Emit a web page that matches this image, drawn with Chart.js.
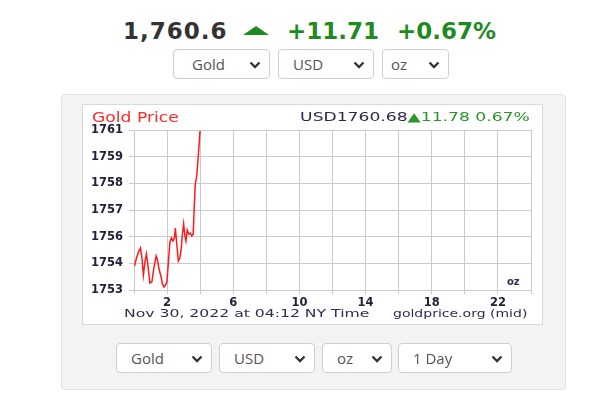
<!DOCTYPE html>
<html>
<head>
<meta charset="utf-8">
<script src="https://cdn.jsdelivr.net/npm/chart.js@4.4.1/dist/chart.umd.min.js"></script>
<style>
body{margin:0;background:#fff;width:600px;height:400px;overflow:hidden;position:relative;font-family:'DejaVu Sans',sans-serif;}
.abs{position:absolute;white-space:nowrap;}
.big{font-weight:bold;font-size:23px;line-height:23px;top:20px;}
.panel{position:absolute;left:61px;top:94px;width:505px;height:296px;box-sizing:border-box;background:#f3f3f3;border:1px solid #e2e2e2;border-radius:4px;}
.box{position:absolute;left:82px;top:104px;width:461px;height:221px;box-sizing:border-box;background:#fff;border:1px solid #d9d9d9;}
.sel{position:absolute;height:30px;box-sizing:border-box;background:#fff;border:1px solid #cfcfcf;border-radius:4px;font-family:'Open Sans',sans-serif;font-size:15px;line-height:28px;color:#555;}
.sel span{position:absolute;top:0;}
.sel svg{position:absolute;right:8px;top:11px;}
#chart{position:absolute;left:82px;top:104px;}
</style>
</head>
<body>

<!-- top price line -->
<div class="abs big" style="left:123px;color:#333;letter-spacing:1px">1,760.6</div>
<div class="abs" style="left:243px;top:26px;width:0;height:0;border-left:13.5px solid transparent;border-right:13.5px solid transparent;border-bottom:9px solid #1f8a1f"></div>
<div class="abs big" style="left:287px;color:#1f8a1f">+11.71</div>
<div class="abs big" style="left:397px;color:#1f8a1f">+0.67%</div>

<div id="selTop"></div>

<div class="panel"></div>
<div class="box"></div>
<canvas id="chart" width="460" height="220"></canvas>

<div class="abs fit" data-w="87" style="left:92px;top:110px;font-size:14px;line-height:14px;color:#ff2a2a">Gold Price</div>
<div class="abs fit" data-w="230" data-right="1" style="right:70px;top:110.5px;font-size:12px;line-height:12px;color:#2a2a50">USD1760.68<span style="color:#2a962a">▲11.78 0.67%</span></div>
<div class="abs fit" data-w="246" style="left:124px;top:308px;font-size:11px;line-height:11px;color:#2d2d50">Nov 30, 2022 at 04:12 NY Time</div>
<div class="abs fit" data-w="135" style="left:393px;top:308px;font-size:11px;line-height:11px;color:#2d2d50">goldprice.org (mid)</div>
<div class="abs" style="left:507px;top:277px;font-size:10px;line-height:10px;font-weight:bold;color:#2d2d50">oz</div>

<div id="selBottom"></div>

<script>
// ---------- data ----------
const hours = [0.03, 0.15, 0.27, 0.39, 0.48, 0.57, 0.66, 0.75, 0.84, 0.96,
               1.08, 1.2, 1.34, 1.42, 1.5, 1.64, 1.72, 1.81, 1.9, 1.99,
               2.08, 2.17, 2.26, 2.35, 2.44, 2.5, 2.59, 2.68, 2.77, 2.86,
               2.92, 3.0, 3.07, 3.14, 3.22, 3.31, 3.4, 3.49, 3.58, 3.64,
               3.7, 3.8, 3.89, 3.99];
const prices = [1754.2, 1754.6, 1754.9, 1755.1, 1754.6, 1753.75, 1754.4, 1754.8, 1754.25, 1753.35,
                1753.4, 1754.1, 1754.7, 1754.5, 1754.1, 1753.65, 1753.3, 1753.15, 1753.25, 1753.4,
                1754.4, 1755.4, 1755.6, 1755.45, 1755.6, 1756.1, 1755.25, 1754.45, 1754.6, 1755.1,
                1755.75, 1756.3, 1755.75, 1755.45, 1756.0, 1755.8, 1755.85, 1755.7, 1755.8, 1757.1,
                1758.25, 1758.75, 1759.75, 1760.95];

const xTicks = [2, 6, 10, 14, 18, 22];
const xTickLabels = ['2', '6', '10', '14', '18', '22'];
const yTicks = [1753, 1754.333, 1755.667, 1757, 1758.333, 1759.667, 1761];
const yTickLabels = ['1753', '1754', '1756', '1757', '1758', '1759', '1761'];

const metalOpts = ['Gold'];
const currencyOpts = ['USD'];
const unitOpts = ['oz'];
const rangeOpts = ['1 Day'];

// ---------- select boxes ----------
const chevron = '<svg width="12" height="8"><polyline points="1.5,1.5 6,6 10.5,1.5" fill="none" stroke="#333" stroke-width="2.3"/></svg>';

function makeSel(parent, left, top, width, pad, label) {
    const d = document.createElement('div');
    d.className = 'sel';
    d.style.left = left + 'px';
    d.style.top = top + 'px';
    d.style.width = width + 'px';
    d.innerHTML = `<span style="left:${pad}px">${label}</span>${chevron}`;
    parent.appendChild(d);
}

const top1 = document.querySelector('#selTop');
makeSel(top1, 173, 49, 97, 18, metalOpts[0]);
makeSel(top1, 278, 49, 96, 14, currencyOpts[0]);
makeSel(top1, 382, 49, 67, 8, unitOpts[0]);

const bot = document.querySelector('#selBottom');
makeSel(bot, 116, 343, 96, 14, metalOpts[0]);
makeSel(bot, 219, 343, 96, 14, currencyOpts[0]);
makeSel(bot, 322, 343, 70, 14, unitOpts[0]);
makeSel(bot, 398, 343, 114, 14, rangeOpts[0]);

// stretch the small texts to the widths seen in the picture
document.querySelectorAll('.fit').forEach(el => {
    const k = (+el.dataset.w) / el.offsetWidth;
    el.style.transformOrigin = el.dataset.right ? 'right top' : 'left top';
    el.style.transform = `scaleX(${k})`;
});

// ---------- chart ----------
const tickFont = { family: 'DejaVu Sans', size: 11.5, weight: 'bold' };
const gridCol = '#cacaca';

const ctx = document.getElementById('chart').getContext('2d');
const chart = new Chart(ctx, {
    type: 'line',
    data: {
        datasets: [{
            data: hours.map((h, i) => ({ x: h, y: prices[i] })),
            borderColor: '#ff1a1a',
            borderWidth: 1.5,
            pointRadius: 0,
            tension: 0,
            fill: false
        }]
    },
    options: {
        responsive: false,
        devicePixelRatio: 1,
        animation: false,
        layout: { padding: { top: 26, right: 11, bottom: 0, left: 0 } },
        plugins: { legend: { display: false }, tooltip: { enabled: false } },
        scales: {
            x: {
                type: 'linear',
                min: 0,
                max: 24,
                afterFit: (s) => { s.height = 34; },
                border: { color: gridCol, width: 1 },
                grid: { color: gridCol, tickColor: gridCol, tickLength: 4 },
                ticks: {
                    stepSize: 2,
                    autoSkip: false,
                    maxRotation: 0,
                    padding: 2,
                    color: '#22223a',
                    font: tickFont,
                    callback: (v) => {
                        const i = xTicks.indexOf(v);
                        return i >= 0 ? xTickLabels[i] : '';
                    }
                }
            },
            y: {
                min: 1753,
                max: 1761,
                afterFit: (s) => { s.width = 52; },
                afterBuildTicks: (s) => { s.ticks = yTicks.map(v => ({ value: v })); },
                border: { color: gridCol, width: 1 },
                grid: { color: gridCol, tickColor: gridCol, tickLength: 5 },
                ticks: {
                    padding: 6,
                    color: '#22223a',
                    font: tickFont,
                    callback: (v, i) => yTickLabels[i]
                }
            }
        }
    }
});
</script>
</body>
</html>
